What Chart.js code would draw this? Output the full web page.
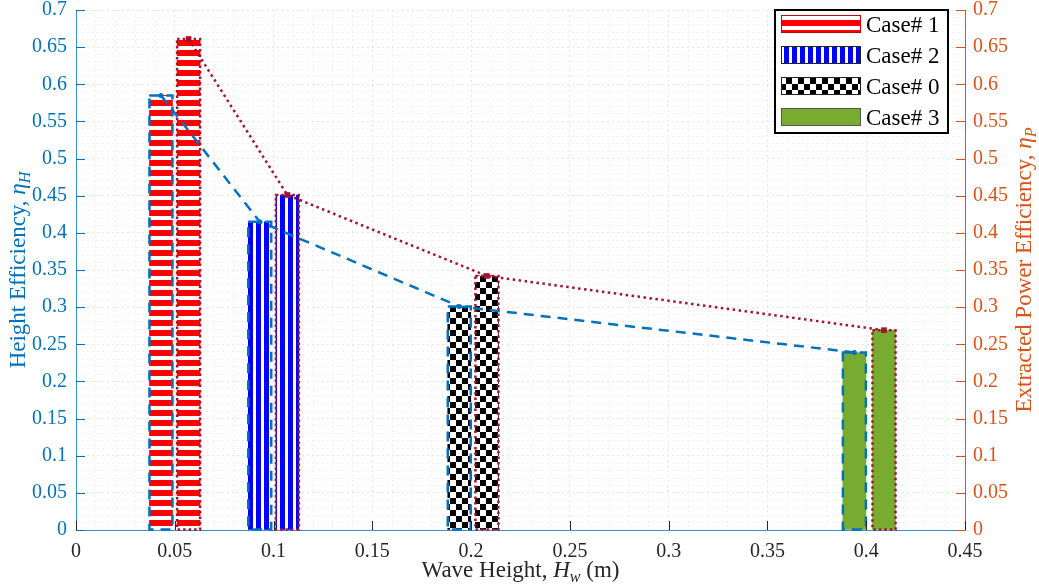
<!DOCTYPE html>
<html>
<head>
<meta charset="utf-8">
<script src="https://cdn.jsdelivr.net/npm/chart.js@4.4.0/dist/chart.umd.min.js"></script>
<style>
  html, body { margin: 0; padding: 0; background: #fff; }
</style>
</head>
<body>
<canvas id="effChart" width="1039" height="588"></canvas>
<script>
// values
const caseNames = ["Case# 1", "Case# 2", "Case# 0", "Case# 3"];
const heightX = [0.043, 0.093, 0.194, 0.394];   // left bar of each pair (eta_H)
const powerX = [0.057, 0.107, 0.208, 0.409];    // right bar of each pair (eta_P)
const heightEff = [0.585, 0.415, 0.301, 0.239];
const powerEff = [0.661, 0.451, 0.342, 0.269];
const xMajor = [0, 0.05, 0.1, 0.15, 0.2, 0.25, 0.3, 0.35, 0.4, 0.45];
const yMajor = [0, 0.05, 0.1, 0.15, 0.2, 0.25, 0.3, 0.35, 0.4, 0.45, 0.5, 0.55, 0.6, 0.65, 0.7];

const BLUE = "#0072BD";
const ORANGE = "#D95319";
const DARKRED = "#A2142F";
const GREEN = "#77AC30";
const SERIF = '"Liberation Serif", "DejaVu Serif", serif';

// hatch fills for the bars
function makePattern(w, h, paint) {
  const c = document.createElement("canvas");
  c.width = w;
  c.height = h;
  const g = c.getContext("2d");
  g.fillStyle = "#fff";
  g.fillRect(0, 0, w, h);
  paint(g);
  return g.createPattern(c, "repeat");
}
const redStripes = makePattern(10, 10, (g) => {
  g.fillStyle = "#ff0000";
  g.fillRect(0, 0, 10, 6);
});
const blueStripes = makePattern(8, 8, (g) => {
  g.fillStyle = "#0000ff";
  g.fillRect(0, 0, 5, 8);
});
const checker = makePattern(12, 12, (g) => {
  g.fillStyle = "#000";
  g.fillRect(0, 0, 6, 6);
  g.fillRect(6, 6, 6, 6);
});
const caseFills = [redStripes, blueStripes, checker, GREEN];
const legendEdges = ["#cc0000", "#222", "#222", "#555"];

function tickLabel(majors) {
  return (value) => {
    const m = majors.find((v) => Math.abs(v - value) < 1e-6);
    return m === undefined ? "" : String(m);
  };
}

// bars can't do dashed borders, so stroke them here
const barEdges = {
  id: "barEdges",
  afterDatasetDraw(chart, args) {
    const ds = chart.data.datasets[args.index];
    if (!ds.edgeColor) return;
    const ctx = chart.ctx;
    ctx.save();
    ctx.strokeStyle = ds.edgeColor;
    ctx.lineWidth = ds.edgeWidth;
    ctx.setLineDash(ds.edgeDash);
    args.meta.data.forEach((bar) => {
      const { x, y, base, width } = bar.getProps(["x", "y", "base", "width"], true);
      ctx.strokeRect(x - width / 2, y, width, base - y);
    });
    ctx.restore();
  },
};

function drawRich(ctx, parts, x, y, size, color, rotate) {
  ctx.save();
  ctx.translate(x, y);
  if (rotate) ctx.rotate(-Math.PI / 2);
  const segs = parts.map((p) => {
    const fs = p.sub ? size * 0.7 : size;
    const font = (p.it ? "italic " : "") + fs + "px " + SERIF;
    ctx.font = font;
    return { p, font, w: ctx.measureText(p.t).width };
  });
  const total = segs.reduce((s, g) => s + g.w, 0);
  let cx = -total / 2;
  ctx.fillStyle = color;
  ctx.textAlign = "left";
  ctx.textBaseline = "alphabetic";
  segs.forEach((g) => {
    ctx.font = g.font;
    ctx.fillText(g.p.t, cx, g.p.sub ? size * 0.22 : 0);
    cx += g.w;
  });
  ctx.restore();
}

// inner ticks, axis titles and the boxed legend
const decorations = {
  id: "decorations",
  afterDraw(chart) {
    const { ctx, chartArea: a, scales } = chart;
    ctx.save();
    ctx.lineWidth = 1;
    ctx.strokeStyle = "#262626";
    xMajor.forEach((v) => {
      const px = Math.round(scales.x.getPixelForValue(v)) + 0.5;
      ctx.beginPath();
      ctx.moveTo(px, a.bottom);
      ctx.lineTo(px, a.bottom - 9);
      ctx.stroke();
    });
    yMajor.forEach((v) => {
      const py = Math.round(scales.y.getPixelForValue(v)) + 0.5;
      ctx.strokeStyle = BLUE;
      ctx.beginPath();
      ctx.moveTo(a.left, py);
      ctx.lineTo(a.left + 9, py);
      ctx.stroke();
      ctx.strokeStyle = ORANGE;
      ctx.beginPath();
      ctx.moveTo(a.right, py);
      ctx.lineTo(a.right - 9, py);
      ctx.stroke();
    });
    ctx.restore();

    const midY = (a.top + a.bottom) / 2;
    drawRich(ctx, [{ t: "Wave Height, " }, { t: "H", it: true }, { t: "w", it: true, sub: true }, { t: " (m)" }],
      (a.left + a.right) / 2, 577, 23, "#262626", false);
    drawRich(ctx, [{ t: "Height Efficiency, " }, { t: "η", it: true }, { t: "H", it: true, sub: true }],
      25, midY, 23, BLUE, true);
    drawRich(ctx, [{ t: "Extracted Power Efficiency, " }, { t: "η", it: true }, { t: "P", it: true, sub: true }],
      1031, midY, 23, ORANGE, true);

    // legend box
    const bx = a.right - 190, by = a.top, bw = 173, bh = 123;
    ctx.save();
    ctx.fillStyle = "#fff";
    ctx.fillRect(bx, by, bw, bh);
    ctx.lineWidth = 2;
    ctx.strokeStyle = "#000";
    ctx.strokeRect(bx, by, bw, bh);
    caseNames.forEach((name, i) => {
      const cy = by + 14 + i * 31;
      ctx.fillStyle = caseFills[i];
      ctx.fillRect(bx + 6, cy - 9, 80, 18);
      ctx.lineWidth = 1;
      ctx.strokeStyle = legendEdges[i];
      ctx.strokeRect(bx + 6.5, cy - 8.5, 79, 17);
      ctx.fillStyle = "#000";
      ctx.font = "23px " + SERIF;
      ctx.textAlign = "left";
      ctx.textBaseline = "alphabetic";
      ctx.fillText(name, bx + 91, cy + 8);
    });
    ctx.restore();
  },
};

const gridColor = (c) => {
  if (!c.tick) return "#eef0f3";
  const major = yMajor.concat(xMajor).some((v) => Math.abs(v - c.tick.value) < 1e-6);
  return major ? "#e2e5e9" : "#eef0f3";
};

new Chart(document.getElementById("effChart"), {
  type: "bar",
  data: {
    datasets: [
      {
        type: "line",
        label: "eta_H",
        data: heightX.map((x, i) => ({ x, y: heightEff[i] })),
        yAxisID: "y",
        borderColor: BLUE,
        borderWidth: 2.5,
        borderDash: [10, 7],
        tension: 0,
        pointStyle: "circle",
        pointRadius: 2.5,
        pointBackgroundColor: BLUE,
        pointBorderWidth: 0,
        order: 0,
      },
      {
        type: "line",
        label: "eta_P",
        data: powerX.map((x, i) => ({ x, y: powerEff[i] })),
        yAxisID: "y1",
        borderColor: DARKRED,
        borderWidth: 2.5,
        borderDash: [2.5, 3.5],
        tension: 0,
        pointStyle: "rect",
        pointRadius: 4,
        pointBackgroundColor: DARKRED,
        pointBorderWidth: 0,
        order: 0,
      },
      {
        type: "bar",
        label: "Height efficiency",
        data: heightX.map((x, i) => ({ x, y: heightEff[i] })),
        yAxisID: "y",
        backgroundColor: caseFills,
        borderWidth: 0,
        barThickness: 23,
        grouped: false,
        order: 1,
        edgeColor: BLUE,
        edgeWidth: 2.5,
        edgeDash: [10, 7],
      },
      {
        type: "bar",
        label: "Power efficiency",
        data: powerX.map((x, i) => ({ x, y: powerEff[i] })),
        yAxisID: "y1",
        backgroundColor: caseFills,
        borderWidth: 0,
        barThickness: 23,
        grouped: false,
        order: 1,
        edgeColor: DARKRED,
        edgeWidth: 2.5,
        edgeDash: [2.5, 3],
      },
    ],
  },
  options: {
    responsive: false,
    animation: false,
    layout: { padding: { top: 10, left: 0, right: 0, bottom: 0 } },
    plugins: { legend: { display: false }, tooltip: { enabled: false } },
    scales: {
      x: {
        type: "linear",
        min: 0,
        max: 0.45,
        offset: false,
        afterFit: (s) => { s.height = 58; },
        ticks: {
          stepSize: 0.01,
          autoSkip: false,
          maxRotation: 0,
          padding: 10,
          color: "#262626",
          font: { family: SERIF, size: 20 },
          callback: tickLabel(xMajor),
        },
        grid: { drawTicks: false, offset: false, color: gridColor, lineWidth: 1 },
        border: { color: "#3b8fd0", width: 1, dash: [2, 3] },
      },
      y: {
        position: "left",
        min: 0,
        max: 0.7,
        afterFit: (s) => { s.width = 76; s.paddingTop = 0; s.paddingBottom = 0; },
        ticks: {
          stepSize: 0.01,
          autoSkip: false,
          padding: 9,
          color: BLUE,
          font: { family: SERIF, size: 20 },
          callback: tickLabel(yMajor),
        },
        grid: { drawTicks: false, color: gridColor, lineWidth: 1 },
        border: { color: "#3b8fd0", width: 1, dash: [2, 3] },
      },
      y1: {
        position: "right",
        min: 0,
        max: 0.7,
        afterFit: (s) => { s.width = 74; s.paddingTop = 0; s.paddingBottom = 0; },
        ticks: {
          stepSize: 0.01,
          autoSkip: false,
          padding: 8,
          color: ORANGE,
          font: { family: SERIF, size: 20 },
          callback: tickLabel(yMajor),
        },
        grid: { drawTicks: false, drawOnChartArea: false },
        border: { color: ORANGE, width: 1 },
      },
    },
  },
  plugins: [barEdges, decorations],
});
</script>
</body>
</html>
